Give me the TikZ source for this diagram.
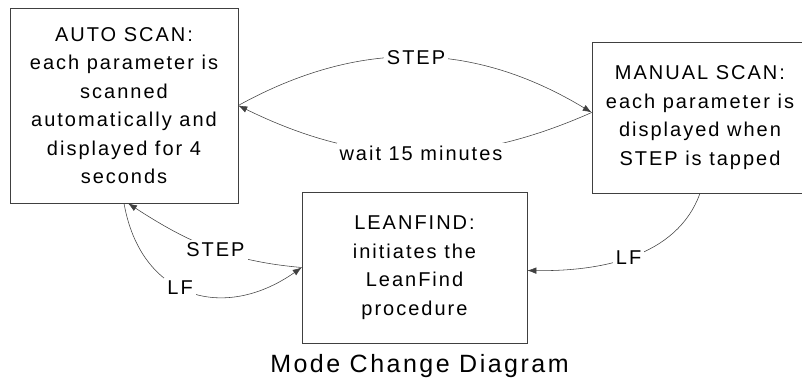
\documentclass[tikz,border=0pt]{standalone}
\usepackage{fontspec}
\setmainfont{Liberation Sans}
\newfontfamily\lsf[LetterSpace=10]{Liberation Sans}
\usetikzlibrary{arrows.meta}
\begin{document}
\begin{tikzpicture}[x=1pt,y=1pt,
  boxst/.style={draw=black!75, line width=0.6pt, rectangle, align=center, inner sep=0pt,
     font=\lsf\fontsize{20}{28.5}\selectfont},
  conn/.style={draw=black!75, line width=0.55pt, -{Latex[length=9pt,width=6.5pt]}},
  lbl/.style={fill=white, inner sep=3pt, font=\lsf\fontsize{20}{24}\selectfont, text=black}]
\useasboundingbox (0,0) rectangle (802,382);
\fill[white] (0,0) rectangle (802,382);
\node[boxst, minimum width=228pt, minimum height=195pt] (auto) at (124,276.5)
  {AUTO SCAN:\\each parameter is\\scanned\\automatically and\\displayed for 4\\seconds};
\node[boxst, minimum width=216pt, minimum height=151pt] (man) at (700,264.5)
  {MANUAL SCAN:\\each parameter is\\displayed when\\STEP is tapped};
\node[boxst, minimum width=225pt, minimum height=151pt] (lean) at (414.5,114.5)
  {LEANFIND:\\initiates the\\LeanFind\\procedure};
\node[anchor=base, font=\lsf\fontsize{25}{30}\selectfont] (title) at (419.5,9) {Mode Change Diagram};
\draw[conn] (auto.east) to[bend left=30] node[lbl] (l1) {STEP} ([yshift=5pt]man.west);
\draw[conn] ([yshift=5pt]man.west) to[bend left=25] node[lbl, pos=0.48] (l2) {wait 15 minutes} (auto.east);
\draw[conn] (man.south) .. controls +(-23,-64) and +(73,-1) .. node[lbl, pos=0.52] (l3) {LF} ([yshift=-3pt]lean.east);
\draw[conn] (lean.west) to[out=175, in=-33] node[lbl, pos=0.47] (l4) {STEP} ([xshift=4pt]auto.south);
\draw[conn] (auto.south) to[out=-80, in=-145, looseness=1.3] node[lbl, pos=0.45] (l5) {LF} (lean.west);
\end{tikzpicture}
\end{document}
